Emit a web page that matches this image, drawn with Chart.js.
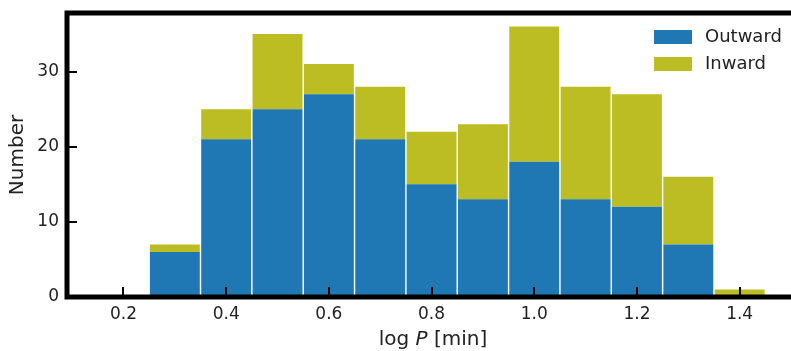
<!DOCTYPE html>
<html>
<head>
<meta charset="utf-8">
<script src="https://cdn.jsdelivr.net/npm/chart.js@4.4.0/dist/chart.umd.min.js"></script>
<style>
  html, body { margin: 0; padding: 0; background: #fff; }
</style>
</head>
<body>
<canvas id="hist" width="791" height="351"></canvas>
<script>
const binCenters = [0.3, 0.4, 0.5, 0.6, 0.7, 0.8, 0.9, 1.0, 1.1, 1.2, 1.3, 1.4];
const outward = [6, 21, 25, 27, 21, 15, 13, 18, 13, 12, 7, 0];
const inward = [1, 4, 10, 4, 7, 7, 10, 18, 15, 15, 9, 1];
const xTicks = [0.2, 0.4, 0.6, 0.8, 1.0, 1.2, 1.4];
const yTicks = [0, 10, 20, 30];

const textColor = "#222";
Chart.defaults.font.family = "'DejaVu Sans', sans-serif";
Chart.defaults.color = textColor;

function points(vals) {
    return binCenters.map((x, i) => ({x: x, y: vals[i]}));
}

// spines (left, bottom, top) + x label with italic P + legend inside the axes
const decor = {
    id: "decor",
    afterDraw(chart) {
        const {ctx, chartArea: a} = chart;
        ctx.save();
        ctx.strokeStyle = "#000";
        ctx.lineWidth = 5;
        ctx.lineCap = "square";
        ctx.beginPath();
        ctx.moveTo(a.right + 5, a.top);
        ctx.lineTo(a.left, a.top);
        ctx.lineTo(a.left, a.bottom);
        ctx.lineTo(a.right + 5, a.bottom);
        ctx.stroke();

        // x axis title
        const parts = [["log ", "20px 'DejaVu Sans'"], ["P", "italic 20px 'DejaVu Sans'"], [" [min]", "20px 'DejaVu Sans'"]];
        let total = 0;
        parts.forEach(p => { ctx.font = p[1]; total += ctx.measureText(p[0]).width; });
        let x = 433 - total / 2;
        ctx.fillStyle = textColor;
        ctx.textBaseline = "alphabetic";
        ctx.textAlign = "left";
        parts.forEach(p => {
            ctx.font = p[1];
            ctx.fillText(p[0], x, 345);
            x += ctx.measureText(p[0]).width;
        });

        // legend
        ctx.font = "18px 'DejaVu Sans'";
        ctx.textBaseline = "middle";
        chart.data.datasets.forEach((ds, i) => {
            const y = 37 + i * 27;
            ctx.fillStyle = ds.backgroundColor;
            ctx.fillRect(654, y - 7, 38, 14);
            ctx.fillStyle = textColor;
            ctx.fillText(ds.label, 705, y);
        });
        ctx.restore();
    }
};

new Chart(document.getElementById("hist"), {
    type: "bar",
    data: {
        datasets: [
            {label: "Outward", data: points(outward), backgroundColor: "#1f77b4"},
            {label: "Inward", data: points(inward), backgroundColor: "#bcbd22"}
        ]
    },
    options: {
        responsive: false,
        animation: false,
        categoryPercentage: 1.0,
        barPercentage: 0.972,
        layout: {padding: {top: 13, right: 0, left: 0, bottom: 0}},
        plugins: {legend: {display: false}, tooltip: {enabled: false}},
        scales: {
            x: {
                type: "linear",
                stacked: true,
                offset: false,
                min: 0.09,
                max: 1.5,
                afterBuildTicks: s => { s.ticks = xTicks.map(v => ({value: v})); },
                afterFit: s => { s.height = 54; s.paddingLeft = 0; s.paddingRight = 0; },
                grid: {offset: false, drawOnChartArea: false, drawTicks: true, tickLength: -10,
                       color: "#000", lineWidth: 2, z: 1},
                border: {display: false},
                ticks: {font: {size: 17}, padding: 17, maxRotation: 0,
                        callback: v => v.toFixed(1)}
            },
            y: {
                stacked: true,
                min: 0,
                max: 37.8,
                afterBuildTicks: s => { s.ticks = yTicks.map(v => ({value: v})); },
                afterFit: s => { s.width = 67; s.paddingTop = 0; s.paddingBottom = 0; },
                grid: {drawOnChartArea: false, drawTicks: true, tickLength: -10,
                       color: "#000", lineWidth: 2, z: 1},
                border: {display: false},
                ticks: {font: {size: 17}, padding: 18},
                title: {display: true, text: "Number", font: {size: 20}, padding: {top: 6, bottom: 0}}
            }
        }
    },
    plugins: [decor]
});
</script>
</body>
</html>
